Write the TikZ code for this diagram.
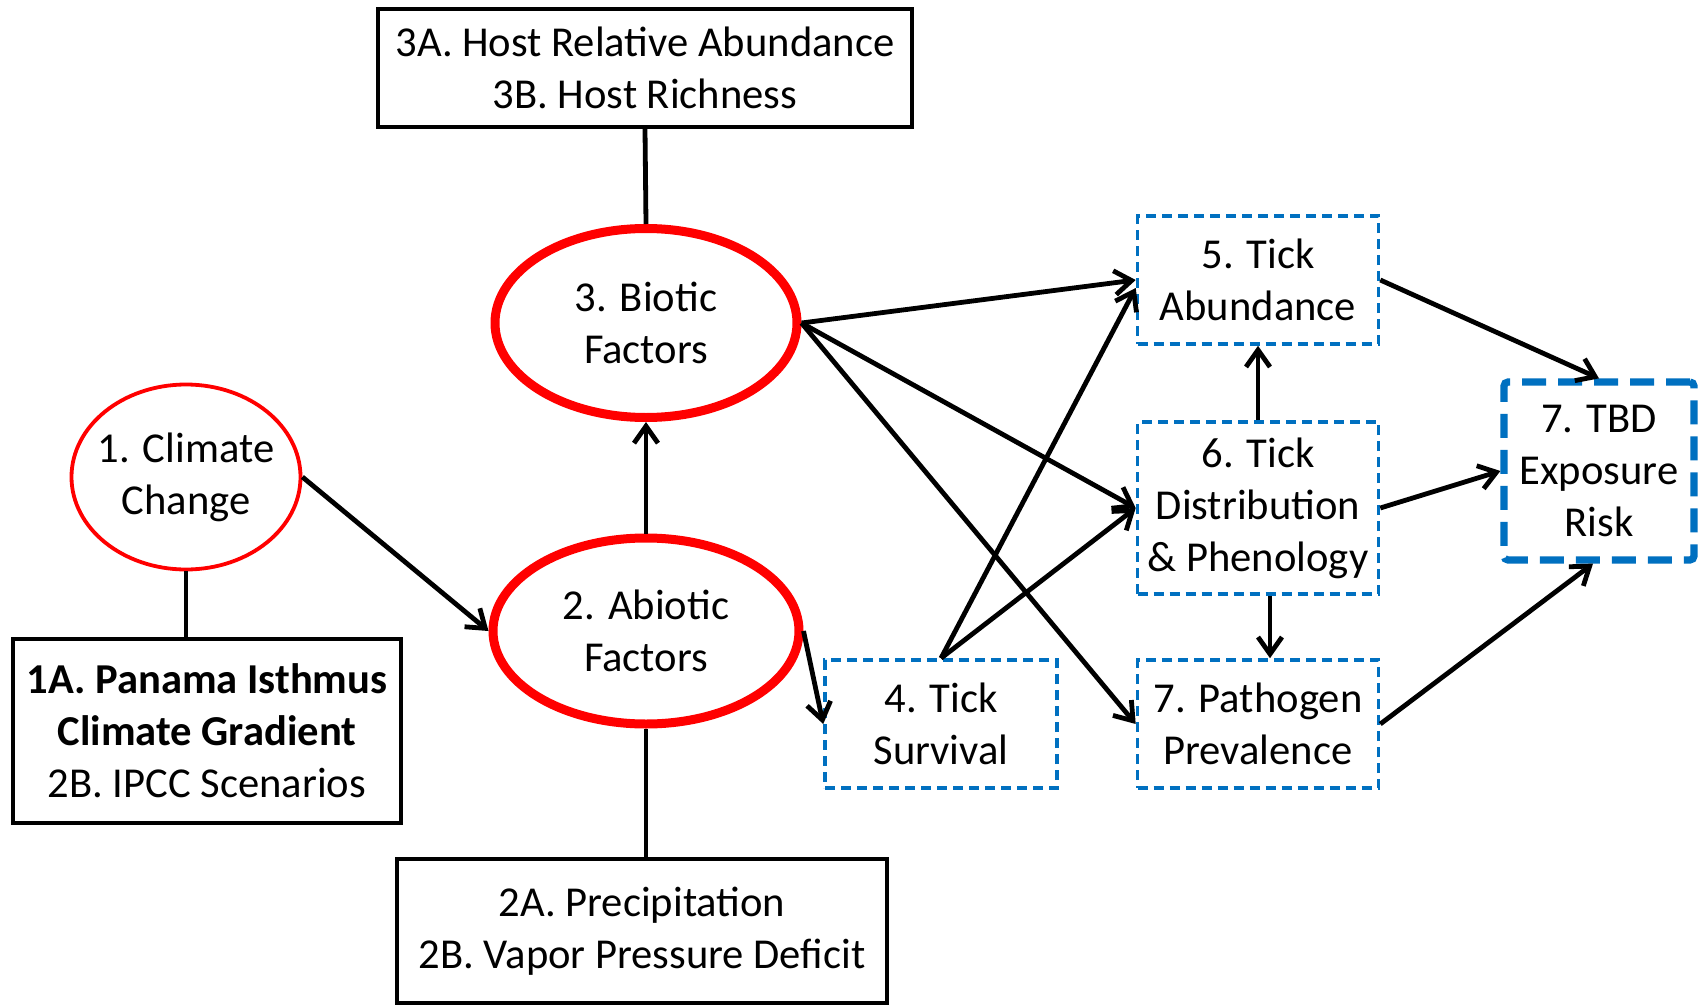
\documentclass[tikz,border=0pt]{standalone}
\usepackage{fontspec}
\setmainfont{Carlito}
\usetikzlibrary{shapes.geometric,arrows.meta}
\definecolor{cred}{RGB}{255,0,0}
\definecolor{cblue}{RGB}{0,112,192}
\begin{document}
\begin{tikzpicture}[x=0.5pt,y=-0.5pt,
  every node/.style={font=\fontsize{21.3}{26}\selectfont, align=center, inner sep=0pt},
  blackbox/.style={draw=black, line width=2.2pt, rectangle},
  bigell/.style={draw=cred, line width=4.5pt, ellipse, inner sep=-30pt},
  smallell/.style={draw=cred, line width=1.9pt, ellipse, inner sep=-30pt},
  tickbox/.style={draw=cblue, line width=1.8pt, dash pattern=on 5pt off 3pt, rectangle, minimum width=120.5pt, minimum height=64pt},
  riskbox/.style={draw=cblue, line width=3.6pt, dash pattern=on 12pt off 6pt, rectangle, rounded corners=2pt},
  conn/.style={draw=black, line width=2.4pt},
  arr/.style={conn, -{Straight Barb[length=8.5pt,width=12pt,line width=2.4pt]}}
]
\useasboundingbox (0,0) rectangle (1703,1006);
\fill[white] (0,0) rectangle (1703,1006);

% nodes
\node[blackbox, minimum width=267pt, minimum height=59pt] (h3) at (645,68) {3A. Host Relative Abundance\\3B. Host Richness};
\node[bigell, minimum width=151pt, minimum height=94.5pt] (bio) at (646,323) {3. Biotic\\Factors};
\node[smallell, minimum width=114.5pt, minimum height=92.5pt] (clim) at (186,477) {1. Climate\\Change};
\node[bigell, minimum width=153pt, minimum height=93pt] (abi) at (646,631) {2. Abiotic\\Factors};
\node[blackbox, minimum width=194pt, minimum height=92pt] (h1) at (207,731) {\textbf{1A. Panama Isthmus}\\\textbf{Climate Gradient}\\2B. IPCC Scenarios};
\node[blackbox, minimum width=245pt, minimum height=72pt] (h2) at (642,931) {2A. Precipitation\\2B. Vapor Pressure Deficit};
\node[tickbox] (t5) at (1258,280) {5. Tick\\Abundance};
\node[tickbox, minimum height=86pt] (t6) at (1258,508) {6. Tick\\Distribution\\\&~Phenology};
\node[tickbox, minimum width=116pt] (t4) at (941,724) {4. Tick\\Survival};
\node[tickbox] (path) at (1258,724) {7. Pathogen\\Prevalence};
\node[riskbox, minimum width=95pt, minimum height=89pt] (risk) at (1599,471) {7. TBD\\Exposure\\Risk};

% plain connectors
\draw[conn] (bio.north) -- (h3.south);
\draw[conn] (clim.south) -- (clim.south |- h1.north);
\draw[conn] (abi.south) -- (abi.south |- h2.north);

% arrows
\draw[arr] (clim.east) -- (abi.west);
\draw[arr] (abi.north) -- (bio.south);
\draw[arr] (bio.east) -- (t5.west);
\draw[arr] (bio.east) -- (t6.west);
\draw[arr] (bio.east) -- (path.west);
\draw[arr] (abi.east) -- (t4.west);
\draw[arr] (t4.north) -- ([yshift=-4pt]t5.west);
\draw[arr] (t4.north) -- (t6.west);
\draw[arr] (t6.north) -- (t5.south);
\draw[arr] ([xshift=6pt]t6.south) -- ([xshift=6pt]path.north);
\draw[arr] (t5.east) -- (risk.north);
\draw[arr] (t6.east) -- (risk.west);
\draw[arr] (path.east) -- ([xshift=-3pt]risk.south);
\end{tikzpicture}
\end{document}
